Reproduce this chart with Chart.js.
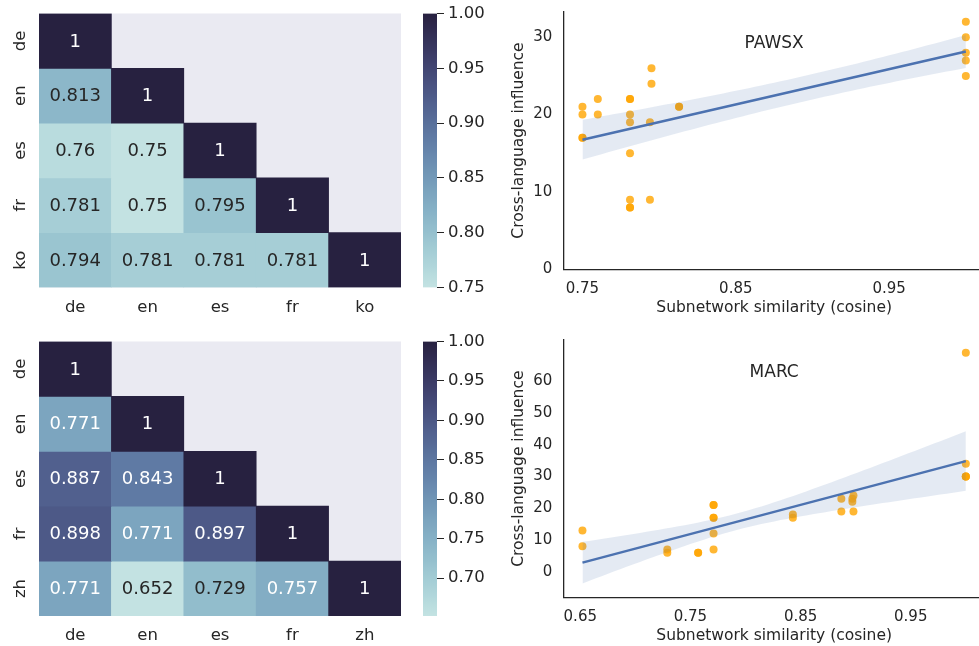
<!DOCTYPE html>
<html>
<head>
<meta charset="utf-8">
<script src="https://cdn.jsdelivr.net/npm/chart.js@4.4.1/dist/chart.umd.min.js"></script>
<style>
  html, body { margin: 0; padding: 0; background: #ffffff; overflow: hidden; width: 979px; height: 646px; }
  canvas { position: absolute; display: block; }
</style>
</head>
<body>
<canvas id="hmTop" width="410" height="330" style="left:0px;top:0px"></canvas>
<canvas id="cbTop" width="85" height="330" style="left:415px;top:0px"></canvas>
<canvas id="hmBot" width="410" height="316" style="left:0px;top:330px"></canvas>
<canvas id="cbBot" width="85" height="316" style="left:415px;top:330px"></canvas>
<canvas id="regTop" width="489" height="330" style="left:500px;top:0px"></canvas>
<canvas id="regBot" width="489" height="316" style="left:500px;top:330px"></canvas>
<script>
// ---- subnetwork similarity matrices (lower triangle, row by row) ----
const pawsxLangs = ['de', 'en', 'es', 'fr', 'ko'];
const pawsxSimRows = [
  [1],
  [0.813, 1],
  [0.76, 0.75, 1],
  [0.781, 0.75, 0.795, 1],
  [0.794, 0.781, 0.781, 0.781, 1]
];
const marcLangs = ['de', 'en', 'es', 'fr', 'zh'];
const marcSimRows = [
  [1],
  [0.771, 1],
  [0.887, 0.843, 1],
  [0.898, 0.771, 0.897, 1],
  [0.771, 0.652, 0.729, 0.757, 1]
];
const pawsxBarTicks = [0.75, 0.80, 0.85, 0.90, 0.95, 1.00];
const marcBarTicks = [0.70, 0.75, 0.80, 0.85, 0.90, 0.95, 1.00];

// ---- similarity vs. cross-language influence ----
const pawsxSim = [0.75, 0.75, 0.75, 0.75, 0.76, 0.76,
  0.781, 0.781, 0.781, 0.781, 0.781, 0.781, 0.781, 0.781,
  0.794, 0.794, 0.795, 0.795, 0.813, 0.813, 1, 1, 1, 1, 1];
const pawsxInfluence = [21, 20, 17, 17, 22, 20,
  22, 22, 20, 19, 15, 9, 8, 8,
  19, 9, 26, 24, 21, 21, 32, 30, 28, 27, 25];
const marcSim = [0.652, 0.652, 0.729, 0.729, 0.757, 0.757,
  0.771, 0.771, 0.771, 0.771, 0.771, 0.771,
  0.843, 0.843, 0.887, 0.887, 0.897, 0.897, 0.898, 0.898, 1, 1, 1, 1, 1];
const marcInfluence = [13, 8, 7, 6, 6, 6,
  21, 21, 17, 17, 12, 7,
  18, 17, 23, 19, 23, 22, 24, 19, 69, 34, 30, 30, 30];
const pawsxXTicks = [0.75, 0.85, 0.95];
const pawsxYTicks = [0, 10, 20, 30];
const marcXTicks = [0.65, 0.75, 0.85, 0.95];
const marcYTicks = [0, 10, 20, 30, 40, 50, 60];

const FONT = "'DejaVu Sans', sans-serif";
const INK = '#262626';

// cubehelix palette (start .2, rotation -.3), light -> dark
const HELIX = { start: 0.2, rot: -0.3, gamma: 1, hue: 0.8, light: 0.85, dark: 0.15 };
function helix(x) {
  const xg = Math.pow(x, HELIX.gamma);
  const a = HELIX.hue * xg * (1 - xg) / 2;
  const phi = 2 * Math.PI * (HELIX.start / 3 + HELIX.rot * x);
  const ch = (p0, p1) => Math.min(1, Math.max(0, xg + a * (p0 * Math.cos(phi) + p1 * Math.sin(phi))));
  return [ch(-0.14861, 1.78277), ch(-0.29227, -0.90649), ch(1.97294, 0)];
}
function cmap(t) {
  const idx = Math.min(255, Math.max(0, Math.floor(t * 256)));
  return helix(HELIX.light + (HELIX.dark - HELIX.light) * idx / 255);
}
const rgb = c => `rgb(${Math.round(c[0] * 255)},${Math.round(c[1] * 255)},${Math.round(c[2] * 255)})`;
function luminance(c) {
  const lin = v => v <= 0.03928 ? v / 12.92 : Math.pow((v + 0.055) / 1.055, 2.4);
  return 0.2126 * lin(c[0]) + 0.7152 * lin(c[1]) + 0.0722 * lin(c[2]);
}
const fmt3 = v => String(Number(v.toPrecision(3)));

// keep tick-label overhang from pushing the plot area around
const noOverhang = s => { s.paddingTop = 0; s.paddingBottom = 0; s.paddingLeft = 0; s.paddingRight = 0; };

// ---------- heatmap: one floating-bar dataset per row ----------
const heatPlugin = {
  id: 'heatText',
  beforeDatasetsDraw(chart) {
    const { ctx, chartArea: a } = chart;
    ctx.save();
    ctx.fillStyle = '#eaeaf2';
    ctx.fillRect(a.left, a.top, a.right - a.left, a.bottom - a.top);
    ctx.restore();
  },
  afterDatasetsDraw(chart, args, opts) {
    const { ctx, chartArea: a } = chart;
    ctx.save();
    ctx.font = `18px ${FONT}`;
    ctx.textAlign = 'center';
    ctx.textBaseline = 'alphabetic';
    chart.data.datasets.forEach((ds, i) => {
      chart.getDatasetMeta(i).data.forEach((bar, j) => {
        const v = ds.cellValues[j];
        if (v == null) return;
        const col = cmap(opts.norm(v));
        ctx.fillStyle = luminance(col) > 0.408 ? INK : '#ffffff';
        ctx.fillText(fmt3(v), bar.x, (bar.y + bar.base) / 2 + 5.6);
      });
    });
    // row labels, rotated
    const ys = chart.scales.y;
    ctx.font = `16.5px ${FONT}`;
    ctx.fillStyle = INK;
    opts.rows.forEach((lab, r) => {
      ctx.save();
      ctx.translate(a.left - 14, ys.getPixelForValue(r + 0.5));
      ctx.rotate(-Math.PI / 2);
      ctx.fillText(lab, 0, 0);
      ctx.restore();
    });
    ctx.restore();
  }
};

function heatmap(id, langs, rows, box) {
  const flat = rows.flat();
  const vmin = Math.min(...flat), vmax = Math.max(...flat);
  const norm = v => (v - vmin) / (vmax - vmin);
  const datasets = rows.map((row, r) => ({
    data: langs.map((_, c) => (c < row.length ? [r, r + 1] : null)),
    cellValues: langs.map((_, c) => (c < row.length ? row[c] : null)),
    backgroundColor: langs.map((_, c) => (c < row.length ? rgb(cmap(norm(row[c]))) : 'rgba(0,0,0,0)')),
    borderWidth: 0,
    grouped: false,
    barPercentage: 1,
    categoryPercentage: 1
  }));
  new Chart(document.getElementById(id), {
    type: 'bar',
    data: { labels: langs, datasets },
    options: {
      responsive: false, devicePixelRatio: 1, animation: false, events: [],
      layout: { padding: { left: 0, top: box.top, right: 9, bottom: 0 } },
      plugins: { legend: { display: false }, tooltip: { enabled: false }, heatText: { norm, rows: langs } },
      scales: {
        x: {
          grid: { display: false, drawTicks: false }, border: { display: false },
          ticks: { color: INK, font: { family: FONT, size: 16.5 }, padding: 10 },
          afterFit: s => { s.height = box.xh; noOverhang(s); }
        },
        y: {
          min: 0, max: rows.length, reverse: true,
          grid: { display: false, drawTicks: false }, border: { display: false },
          ticks: { display: false },
          afterFit: s => { s.width = 39; noOverhang(s); }
        }
      }
    },
    plugins: [heatPlugin]
  });
  return { vmin, vmax };
}

// ---------- colour bar: a single floating bar filled with the palette ----------
function colorbar(id, vmin, vmax, ticks, box) {
  const grad = (chart) => {
    const a = chart.chartArea;
    if (!a) return rgb(cmap(0.5));
    const ys = chart.scales.y;
    const g = chart.ctx.createLinearGradient(0, ys.getPixelForValue(vmin), 0, ys.getPixelForValue(vmax));
    for (let k = 0; k <= 40; k++) g.addColorStop(k / 40, rgb(cmap(k / 40)));
    return g;
  };
  new Chart(document.getElementById(id), {
    type: 'bar',
    data: { labels: [''], datasets: [{ data: [[vmin, vmax]], backgroundColor: c => grad(c.chart), borderWidth: 0, barPercentage: 1, categoryPercentage: 1 }] },
    options: {
      responsive: false, devicePixelRatio: 1, animation: false, events: [],
      layout: { padding: { left: 8, top: box.top, right: 0, bottom: box.bottom } },
      plugins: { legend: { display: false }, tooltip: { enabled: false } },
      scales: {
        x: { display: false },
        y: {
          position: 'right', min: vmin, max: vmax,
          afterBuildTicks: s => { s.ticks = ticks.map(v => ({ value: v })); },
          ticks: { color: INK, font: { family: FONT, size: 16.5 }, padding: 4, callback: v => Number(v).toFixed(2) },
          grid: { display: true, drawOnChartArea: false, drawTicks: true, tickLength: 7, color: INK, lineWidth: 1 },
          border: { display: false },
          afterFit: s => { s.width = 63; noOverhang(s); }
        }
      }
    }
  });
}

// ---------- regression with robust 95% band ----------
function fitLine(xs, ys) {
  const n = xs.length;
  const mx = xs.reduce((s, v) => s + v, 0) / n;
  const my = ys.reduce((s, v) => s + v, 0) / n;
  let sxx = 0, sxy = 0;
  xs.forEach((x, i) => { sxx += (x - mx) ** 2; sxy += (x - mx) * (ys[i] - my); });
  const b = sxy / sxx, a0 = my - b * mx;
  const resid = xs.map((x, i) => ys[i] - (a0 + b * x));
  const predict = x => a0 + b * x;
  const halfWidth = x0 => {
    let v = 0;
    xs.forEach((x, i) => { const w = 1 / n + (x0 - mx) * (x - mx) / sxx; v += w * w * resid[i] * resid[i]; });
    return 1.96 * Math.sqrt(v);
  };
  return { predict, halfWidth, lo: Math.min(...xs), hi: Math.max(...xs) };
}

const textPlugin = {
  id: 'panelText',
  afterDraw(chart, args, o) {
    const { ctx, chartArea: a } = chart;
    const cx = (a.left + a.right) / 2;
    ctx.save();
    ctx.fillStyle = INK;
    ctx.textAlign = 'center';
    ctx.textBaseline = 'alphabetic';
    ctx.font = `17px ${FONT}`;
    ctx.fillText(o.title, cx, a.top + 36.6);
    ctx.font = `15.5px ${FONT}`;
    ctx.fillText(o.xTitle, cx, a.bottom + 43);
    ctx.translate(a.left - 40.5, (a.top + a.bottom) / 2);
    ctx.rotate(-Math.PI / 2);
    ctx.fillText(o.yTitle, 0, 0);
    ctx.restore();
  }
};

function regPanel(id, xs, ys, cfg) {
  const fit = fitLine(xs, ys);
  const steps = 60;
  const grid = Array.from({ length: steps + 1 }, (_, k) => fit.lo + (fit.hi - fit.lo) * k / steps);
  const upper = grid.map(x => ({ x, y: fit.predict(x) + fit.halfWidth(x) }));
  const lower = grid.map(x => ({ x, y: fit.predict(x) - fit.halfWidth(x) }));
  const line = [fit.lo, fit.hi].map(x => ({ x, y: fit.predict(x) }));
  const pts = xs.map((x, i) => ({ x, y: ys[i] }));
  const noLine = { borderWidth: 0, borderColor: 'rgba(0,0,0,0)', pointRadius: 0, tension: 0 };
  new Chart(document.getElementById(id), {
    type: 'scatter',
    data: {
      datasets: [
        { data: pts, backgroundColor: 'rgba(255,165,0,0.8)', borderWidth: 0, pointRadius: 4, order: 3 },
        Object.assign({ type: 'line', data: upper, fill: '+1', backgroundColor: 'rgba(76,114,176,0.15)', order: 2 }, noLine),
        Object.assign({ type: 'line', data: lower, fill: false, order: 2 }, noLine),
        { type: 'line', data: line, borderColor: '#4c72b0', borderWidth: 2.5, pointRadius: 0, fill: false, order: 1 }
      ]
    },
    options: {
      responsive: false, devicePixelRatio: 1, animation: false, events: [],
      layout: { padding: { left: 0, top: cfg.top, right: 0, bottom: 0 } },
      plugins: { legend: { display: false }, tooltip: { enabled: false },
        panelText: { title: cfg.title, xTitle: 'Subnetwork similarity (cosine)', yTitle: 'Cross-language influence' } },
      scales: {
        x: {
          type: 'linear', min: cfg.xMin, max: cfg.xMax,
          afterBuildTicks: s => { s.ticks = cfg.xTicks.map(v => ({ value: v })); },
          ticks: { color: INK, font: { family: FONT, size: 15 }, padding: 11, callback: v => Number(v).toFixed(2) },
          grid: { display: false, drawTicks: false },
          border: { display: true, color: INK, width: 1.3 },
          afterFit: s => { s.height = cfg.xh; noOverhang(s); }
        },
        y: {
          min: cfg.yMin, max: cfg.yMax,
          afterBuildTicks: s => { s.ticks = cfg.yTicks.map(v => ({ value: v })); },
          ticks: { color: INK, font: { family: FONT, size: 15 }, padding: 11, callback: v => String(v) },
          grid: { display: false, drawTicks: false },
          border: { display: true, color: INK, width: 1.3 },
          afterFit: s => { s.width = 63.3; noOverhang(s); }
        }
      }
    },
    plugins: [textPlugin]
  });
}

const pTop = heatmap('hmTop', pawsxLangs, pawsxSimRows, { top: 13.5, xh: 42.5 });
colorbar('cbTop', pTop.vmin, pTop.vmax, pawsxBarTicks, { top: 13.5, bottom: 42.5 });
const pBot = heatmap('hmBot', marcLangs, marcSimRows, { top: 11.5, xh: 30 });
colorbar('cbBot', pBot.vmin, pBot.vmax, marcBarTicks, { top: 11.5, bottom: 30 });

regPanel('regTop', pawsxSim, pawsxInfluence, {
  title: 'PAWSX', top: 11.7, xh: 60.7,
  xMin: 0.7375, xMax: 1.0125, yMin: 0, yMax: 33.3, xTicks: pawsxXTicks, yTicks: pawsxYTicks
});
regPanel('regBot', marcSim, marcInfluence, {
  title: 'MARC', top: 10, xh: 48.7,
  xMin: 0.6346, xMax: 1.0174, yMin: -8.07, yMax: 73.0, xTicks: marcXTicks, yTicks: marcYTicks
});
</script>
</body>
</html>
